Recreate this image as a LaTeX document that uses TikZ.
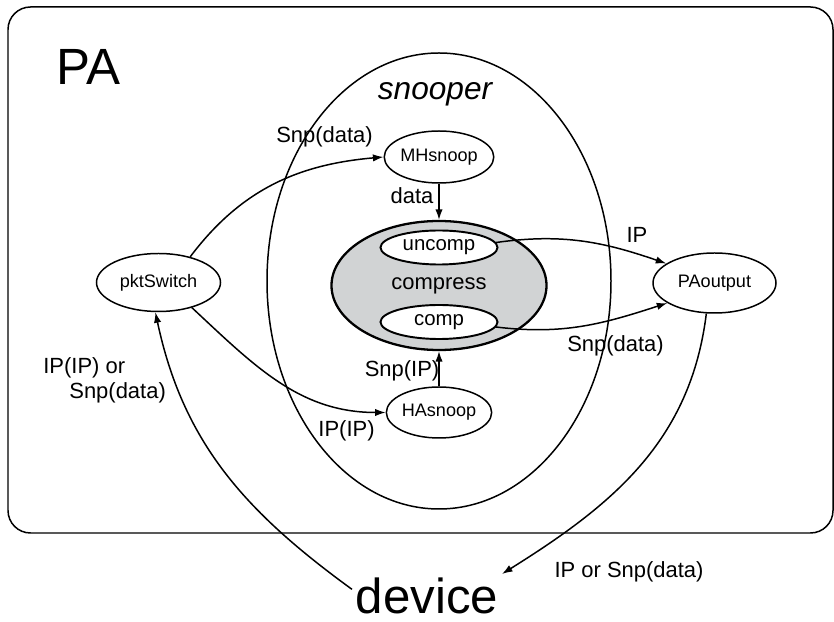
\documentclass[tikz,border=0pt]{standalone}
\usepackage{fontspec}
\setmainfont{Liberation Sans}
\usepackage{tikz}
\usetikzlibrary{shapes.geometric, arrows.meta, positioning}
\definecolor{compgray}{RGB}{209,211,212}

\begin{document}
\begin{tikzpicture}[node distance = 2.57cm,
        proc/.style = {draw, ellipse, line width=0.85pt, inner sep=0pt,
        font=\fontsize{10.3}{12}\selectfont},
        part/.style = {draw, ellipse, fill=white, line width=1.1pt,
        inner sep=0pt, minimum width=2.34cm, minimum height=0.68cm,
        font=\fontsize{11.6}{14}\selectfont},
        lbl/.style = {anchor=base, inner sep=0pt,
        font=\fontsize{12.5}{14.2}\selectfont},
        flow/.style = {line width=0.85pt, -{Latex[length=6pt, width=4.2pt]}}]
        \useasboundingbox (0,0) rectangle (16.68,12.44);

        \draw [line width=0.85pt, rounded corners=0.45cm] (0.16,1.78)
        rectangle (16.66,12.30);
        \node [anchor=base west, inner sep=0pt,
        font=\fontsize{29}{32}\selectfont] (pa) at (1.12,10.74) {PA};

        \node [draw, ellipse, line width=0.85pt, minimum width=6.88cm,
        minimum height=9.12cm] (snooper) at (8.78,6.82) {};
        \node [anchor=base, inner sep=0pt,
        font=\fontsize{18}{20}\selectfont\itshape] (snooperlbl)
        at (8.70,10.44) {snooper};

        \node [draw, ellipse, fill=compgray, line width=1.3pt, inner sep=0pt,
        minimum width=4.30cm, minimum height=2.58cm,
        font=\fontsize{12.5}{14}\selectfont] (compress) at (8.78,6.73)
        {compress};
        \node [part, above of = compress, node distance = 0.76cm] (uncomp)
        {uncomp};
        \node [part, below of = compress, node distance = 0.73cm] (comp)
        {comp};
        \node [proc, above of = compress, minimum width=1.89cm,
        minimum height=1.04cm] (MHsnoop) {MHsnoop};
        \node [proc, below of = compress, node distance = 2.54cm,
        minimum width=1.89cm, minimum height=1.02cm] (HAsnoop) {HAsnoop};

        \node [proc, minimum width=2.48cm, minimum height=1.16cm] (pktSwitch)
        at (3.17,6.79) {pktSwitch};
        \node [proc, minimum width=2.46cm, minimum height=1.20cm] (PAoutput)
        at (14.29,6.78) {PAoutput};

        \node [anchor=base, inner sep=2pt, font=\fontsize{28}{30}\selectfont]
        (device) at (8.54,0.17) {device};

        \draw [flow] (pktSwitch.39) to [out=53, in=185] (MHsnoop.west);
        \draw [flow] (pktSwitch.-37) to [out=-43, in=180] (HAsnoop.west);
        \draw [flow] (MHsnoop.south) -- (compress.north);
        \draw [flow] (HAsnoop.north) -- (compress.south);
        \draw [flow] (uncomp.5) to [out=8, in=161] (PAoutput.158);
        \draw [flow] (comp.-5) to [out=-7, in=198] (PAoutput.203);
        \draw [flow] (PAoutput.255) to [out=263, in=32] (device.north east);
        \draw [flow] (device.175) to [out=144, in=-78] (pktSwitch.264);

        \node [lbl] (snpdatatop) at (6.49,9.58) {Snp(data)};
        \node [lbl] (datalbl) at (8.24,8.36) {data};
        \node [lbl] (iplbl) at (12.74,7.58) {IP};
        \node [lbl] (snpdataright) at (12.31,5.40) {Snp(data)};
        \node [lbl] (snpiplbl) at (8.04,4.90) {Snp(IP)};
        \node [lbl] (ipiplbl) at (6.93,3.70) {IP(IP)};
        \node [lbl, anchor=north west, align=left] (ipipor) at (0.86,5.30)
        {IP(IP) or\\\hspace*{14.8pt}Snp(data)};
        \node [lbl] (iporsnp) at (12.58,0.88) {IP or Snp(data)};
\end{tikzpicture}
\end{document}
